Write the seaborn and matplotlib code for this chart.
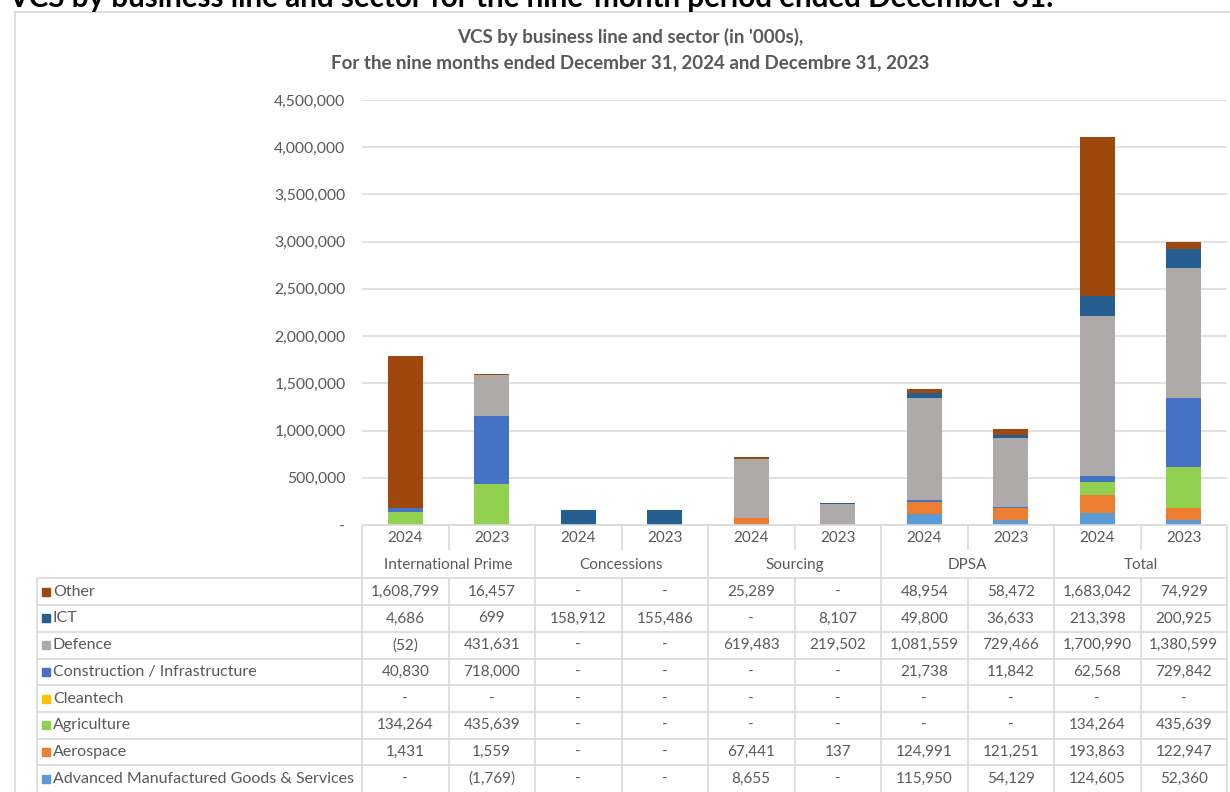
import matplotlib
matplotlib.use("Agg")
import matplotlib.pyplot as plt
import seaborn as sns
import numpy as np
from matplotlib.lines import Line2D
from matplotlib.patches import Rectangle

# data ('000s), columns: IP 2024, IP 2023, Conc 2024, Conc 2023, Sourcing 2024, Sourcing 2023, DPSA 2024, DPSA 2023, Total 2024, Total 2023
groups = ["International Prime", "Concessions", "Sourcing", "DPSA", "Total"]
years = ["2024", "2023"]
sectors = ["Other", "ICT", "Defence", "Construction / Infrastructure", "Cleantech",
           "Agriculture", "Aerospace", "Advanced Manufactured Goods & Services"]

other = [1608799, 16457, 0, 0, 25289, 0, 48954, 58472, 1683042, 74929]
ict = [4686, 699, 158912, 155486, 0, 8107, 49800, 36633, 213398, 200925]
defence = [-52, 431631, 0, 0, 619483, 219502, 1081559, 729466, 1700990, 1380599]
construction = [40830, 718000, 0, 0, 0, 0, 21738, 11842, 62568, 729842]
cleantech = [0, 0, 0, 0, 0, 0, 0, 0, 0, 0]
agriculture = [134264, 435639, 0, 0, 0, 0, 0, 0, 134264, 435639]
aerospace = [1431, 1559, 0, 0, 67441, 137, 124991, 121251, 193863, 122947]
advanced = [0, -1769, 0, 0, 8655, 0, 115950, 54129, 124605, 52360]

series = [other, ict, defence, construction, cleantech, agriculture, aerospace, advanced]
colors = ["#9E480E", "#255E91", "#AEAAAA", "#4472C4", "#FFC000", "#92D050", "#ED7D31", "#5B9BD5"]

sns.set_theme(style="white")
plt.rcParams['font.family'] = ['Lato', 'DejaVu Sans']

W, H = 1230, 792
def fx(px):
    return px / W
def fy(py):
    return 1 - py / H

fig = plt.figure(figsize=(12.3, 7.92), dpi=100)
txt = "#595959"
grid = "#D9D9D9"

# chart area
ax = fig.add_axes([fx(362), fy(525), fx(1227) - fx(362), fy(100) - fy(525)])
ncol = len(other)
xs = np.arange(ncol)
# stack bottom -> top (Advanced first), draw cumulative heights from the top layer down
stack = np.array(series[::-1], dtype=float)
cum = np.cumsum(stack, axis=0)
stack_colors = colors[::-1]
for i in range(len(stack) - 1, -1, -1):
    sns.barplot(x=xs, y=cum[i], color=stack_colors[i], width=0.41, saturation=1,
                errorbar=None, linewidth=0, ax=ax)

ax.set_xlim(-0.5, ncol - 0.5)
ax.set_ylim(0, 4500000)
yt = np.arange(0, 4500001, 500000)
ax.set_yticks(yt)
ax.set_yticklabels(["-" if v == 0 else f"{v:,.0f}" for v in yt], color=txt, fontsize=11.3)
ax.set_xticks([])
ax.set_xlabel("")
ax.set_ylabel("")
ax.tick_params(axis="y", length=0, pad=12)
ax.grid(axis="y", color=grid, linewidth=1.1)
ax.set_axisbelow(True)
for s in ax.spines.values():
    s.set_visible(False)

# data table under the chart
left_px = 37
x_left = -0.5 - (362 - left_px) / 86.5
tab = fig.add_axes([fx(left_px), 0, fx(1227) - fx(left_px), fy(525)])
tab.set_xlim(x_left, ncol - 0.5)
tab.set_ylim(10, 0)
tab.axis("off")

lw = 1.2
def hl(y, x0, x1):
    tab.plot([x0, x1], [y, y], color=grid, lw=lw, clip_on=False, solid_capstyle="butt")
def vl(x, y0, y1):
    tab.plot([x, x], [y0, y1], color=grid, lw=lw, clip_on=False, solid_capstyle="butt")

hl(0, -0.5, ncol - 0.5)
for r in range(2, 10):
    hl(r, x_left, ncol - 0.5)
vl(x_left, 2, 10.2)
for k in range(ncol + 1):
    xk = -0.5 + k
    if k % 2 == 0:
        vl(xk, 0, 10.2)
    else:
        vl(xk, 0, 0.95)
        vl(xk, 2, 10.2)

fs = 11
for j in range(ncol):
    tab.text(j, 0.5, years[j % 2], ha="center", va="center", fontsize=fs, color=txt)
for g, name in enumerate(groups):
    tab.text(2 * g + 0.5, 1.5, name, ha="center", va="center", fontsize=fs, color=txt)

def fmt(v):
    if v == 0:
        return "-"
    if v < 0:
        return f"({-v:,.0f})"
    return f"{v:,.0f}"

sq_w = 7.6 / 86.5
for r, (name, vals, c) in enumerate(zip(sectors, series, colors)):
    yc = r + 2.5
    x0 = x_left + (42 - left_px) / 86.5
    tab.add_patch(Rectangle((x0, yc - 0.15), sq_w, 0.3, color=c, clip_on=False))
    tab.text(x_left + (53 - left_px) / 86.5, yc, name, ha="left", va="center",
             fontsize=11.5, color=txt)
    for j, v in enumerate(vals):
        tab.text(j, yc, fmt(v), ha="center", va="center", fontsize=fs, color=txt)

# chart frame
fig.add_artist(Line2D([fx(15), fx(15)], [fy(12), 0], color=grid, lw=1.2))
fig.add_artist(Line2D([fx(15), 1], [fy(12), fy(12)], color=grid, lw=1.2))

# titles
fig.text(fx(630), fy(37), "VCS by business line and sector (in '000s),", ha="center", va="center",
         fontsize=13.5, fontweight="bold", color=txt)
fig.text(fx(630), fy(63), "For the nine months ended December 31, 2024 and Decembre 31, 2023",
         ha="center", va="center", fontsize=13.5, fontweight="bold", color=txt)
fig.text(fx(8), fy(7), "VCS by business line and sector for the nine-month period ended December 31.",
         ha="left", va="baseline", fontsize=21.3, fontweight="bold", color="black")

fig.savefig("out.png", dpi=100)
